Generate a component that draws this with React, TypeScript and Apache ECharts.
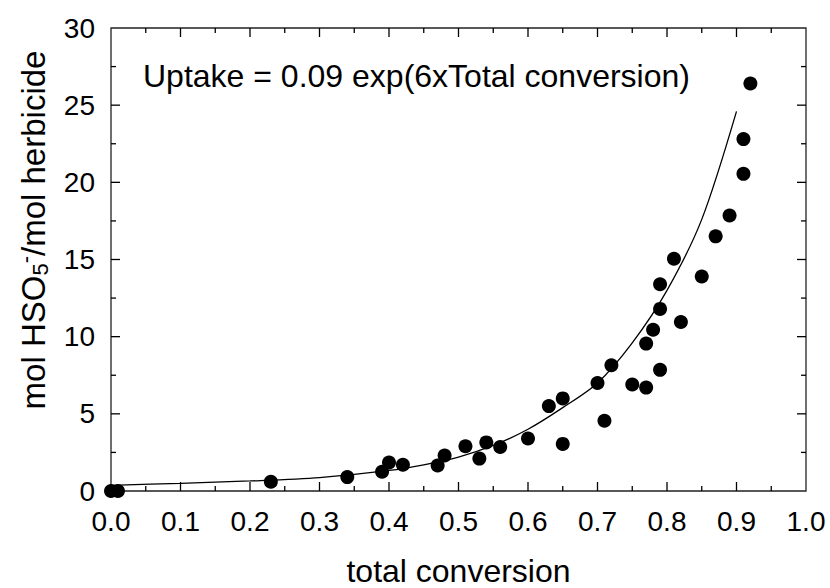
import React, { useEffect, useRef } from "react";
import * as echarts from "echarts";

// Measured points: [total conversion, mol HSO5-/mol herbicide]
const conversion = [0.0, 0.01, 0.23, 0.34, 0.39, 0.40, 0.42, 0.47, 0.48, 0.51, 0.53, 0.54, 0.56, 0.60, 0.63, 0.65, 0.65, 0.70, 0.71, 0.72, 0.75, 0.77, 0.77, 0.78, 0.79, 0.79, 0.79, 0.81, 0.82, 0.85, 0.87, 0.89, 0.91, 0.91, 0.92];
const uptake = [0, 0, 0.6, 0.9, 1.25, 1.85, 1.7, 1.65, 2.3, 2.9, 2.1, 3.15, 2.85, 3.4, 5.5, 6.0, 3.05, 7.0, 4.55, 8.15, 6.9, 6.7, 9.55, 10.45, 7.85, 11.8, 13.4, 15.05, 10.95, 13.9, 16.5, 17.85, 20.55, 22.8, 26.4];

// Fitted curve
const fitX = [0, 0.1, 0.2, 0.3, 0.4, 0.45, 0.5, 0.55, 0.6, 0.65, 0.7, 0.75, 0.8, 0.85, 0.9];
const fitY = [0.37, 0.5, 0.65, 0.87, 1.33, 1.7, 2.2, 2.95, 4.0, 5.4, 7.0, 9.6, 13.0, 17.6, 24.6];

// Axis ranges and tick positions
const xRange = [0, 1, 0.1];
const yRange = [0, 30, 5];
const xMajorTicks = [0.1, 0.2, 0.3, 0.4, 0.5, 0.6, 0.7, 0.8, 0.9];
const xMinorTicks = [0.05, 0.15, 0.25, 0.35, 0.45, 0.55, 0.65, 0.75, 0.85, 0.95];
const yMajorTicks = [5, 10, 15, 20, 25];
const yMinorTicks = [2.5, 7.5, 12.5, 17.5, 22.5, 27.5];

const annotation = "Uptake = 0.09 exp(6xTotal conversion)";
const xTitle = "total conversion";

const FONT = "Liberation Sans, Arial, Helvetica, sans-serif";
const MAJOR_LEN = 9;
const MINOR_LEN = 5;

export default function App() {
  const ref = useRef<HTMLDivElement>(null);
  useEffect(() => {
    document.body.style.margin = "0";
    const chart = echarts.init(ref.current!, null, { renderer: "svg" });

    // tick items: [value, axis (0 = x, 1 = y), major (1) / minor (0)]
    const tickItems: number[][] = [
      ...xMajorTicks.map((v) => [v, 0, 1]),
      ...xMinorTicks.map((v) => [v, 0, 0]),
      ...yMajorTicks.map((v) => [v, 1, 1]),
      ...yMinorTicks.map((v) => [v, 1, 0]),
    ];

    const lineStyle = { stroke: "#000", lineWidth: 1.3 };

    chart.setOption({
      animation: false,
      backgroundColor: "#fff",
      textStyle: { fontFamily: FONT },
      grid: {
        left: 111,
        top: 28,
        right: 24,
        bottom: 97,
        outerBoundsMode: "none",
        containLabel: false,
        show: true,
        borderColor: "#222",
        borderWidth: 1.3,
        backgroundColor: "transparent",
      },
      xAxis: {
        type: "value",
        min: xRange[0],
        max: xRange[1],
        interval: xRange[2],
        axisLine: { show: false, onZero: false },
        axisTick: { show: false },
        splitLine: { show: false },
        name: xTitle,
        nameLocation: "middle",
        nameGap: 64,
        nameTextStyle: { fontSize: 32, color: "#000", fontFamily: FONT },
        axisLabel: {
          fontSize: 28,
          color: "#000",
          margin: 16,
          fontFamily: FONT,
          formatter: (v: number) => v.toFixed(1),
        },
      },
      yAxis: {
        type: "value",
        min: yRange[0],
        max: yRange[1],
        interval: yRange[2],
        axisLine: { show: false, onZero: false },
        axisTick: { show: false },
        splitLine: { show: false },
        axisLabel: { fontSize: 28, color: "#000", margin: 16, fontFamily: FONT },
      },
      graphic: [
        {
          type: "text",
          x: 143,
          y: 76,
          style: {
            text: annotation,
            fontSize: 32,
            fontFamily: FONT,
            fill: "#000",
            verticalAlign: "middle",
            align: "left",
          },
        },
        {
          type: "text",
          x: 33,
          y: 230,
          rotation: Math.PI / 2,
          style: {
            text: "mol HSO{sub|5}{sup|-}/mol herbicide",
            fontSize: 33,
            fontFamily: FONT,
            fill: "#000",
            align: "center",
            verticalAlign: "middle",
            rich: {
              sub: { fontSize: 22, fontFamily: FONT, fill: "#000", padding: [15, 0, 0, 0] },
              sup: { fontSize: 22, fontFamily: FONT, fill: "#000", padding: [0, 0, 15, 0] },
            },
          },
        },
      ],
      series: [
        {
          type: "custom",
          coordinateSystem: "cartesian2d",
          silent: true,
          clip: false,
          data: tickItems.map((t) => [t[0], t[1], t[2]]),
          encode: { x: 0, y: 1 },
          renderItem: (params: any, api: any) => {
            const item = tickItems[params.dataIndex];
            const v = item[0];
            const len = item[2] ? MAJOR_LEN : MINOR_LEN;
            if (item[1] === 0) {
              const b = api.coord([v, yRange[0]]);
              const t = api.coord([v, yRange[1]]);
              return {
                type: "group",
                children: [
                  { type: "line", shape: { x1: b[0], y1: b[1], x2: b[0], y2: b[1] - len }, style: lineStyle },
                  { type: "line", shape: { x1: t[0], y1: t[1], x2: t[0], y2: t[1] + len }, style: lineStyle },
                ],
              };
            }
            const l = api.coord([xRange[0], v]);
            const r = api.coord([xRange[1], v]);
            return {
              type: "group",
              children: [
                { type: "line", shape: { x1: l[0], y1: l[1], x2: l[0] + len, y2: l[1] }, style: lineStyle },
                { type: "line", shape: { x1: r[0], y1: r[1], x2: r[0] - len, y2: r[1] }, style: lineStyle },
              ],
            };
          },
          z: 1,
        },
        {
          type: "line",
          data: fitX.map((x, i) => [x, fitY[i]]),
          showSymbol: false,
          symbol: "none",
          smooth: 0.3,
          lineStyle: { color: "#000", width: 1.3 },
          z: 2,
        },
        {
          type: "scatter",
          data: conversion.map((x, i) => [x, uptake[i]]),
          symbol: "circle",
          symbolSize: 14,
          itemStyle: { color: "#000", opacity: 1 },
          z: 3,
        },
      ],
    });
    return () => chart.dispose();
  }, []);
  return <div ref={ref} style={{ width: 830, height: 588 }} />;
}
